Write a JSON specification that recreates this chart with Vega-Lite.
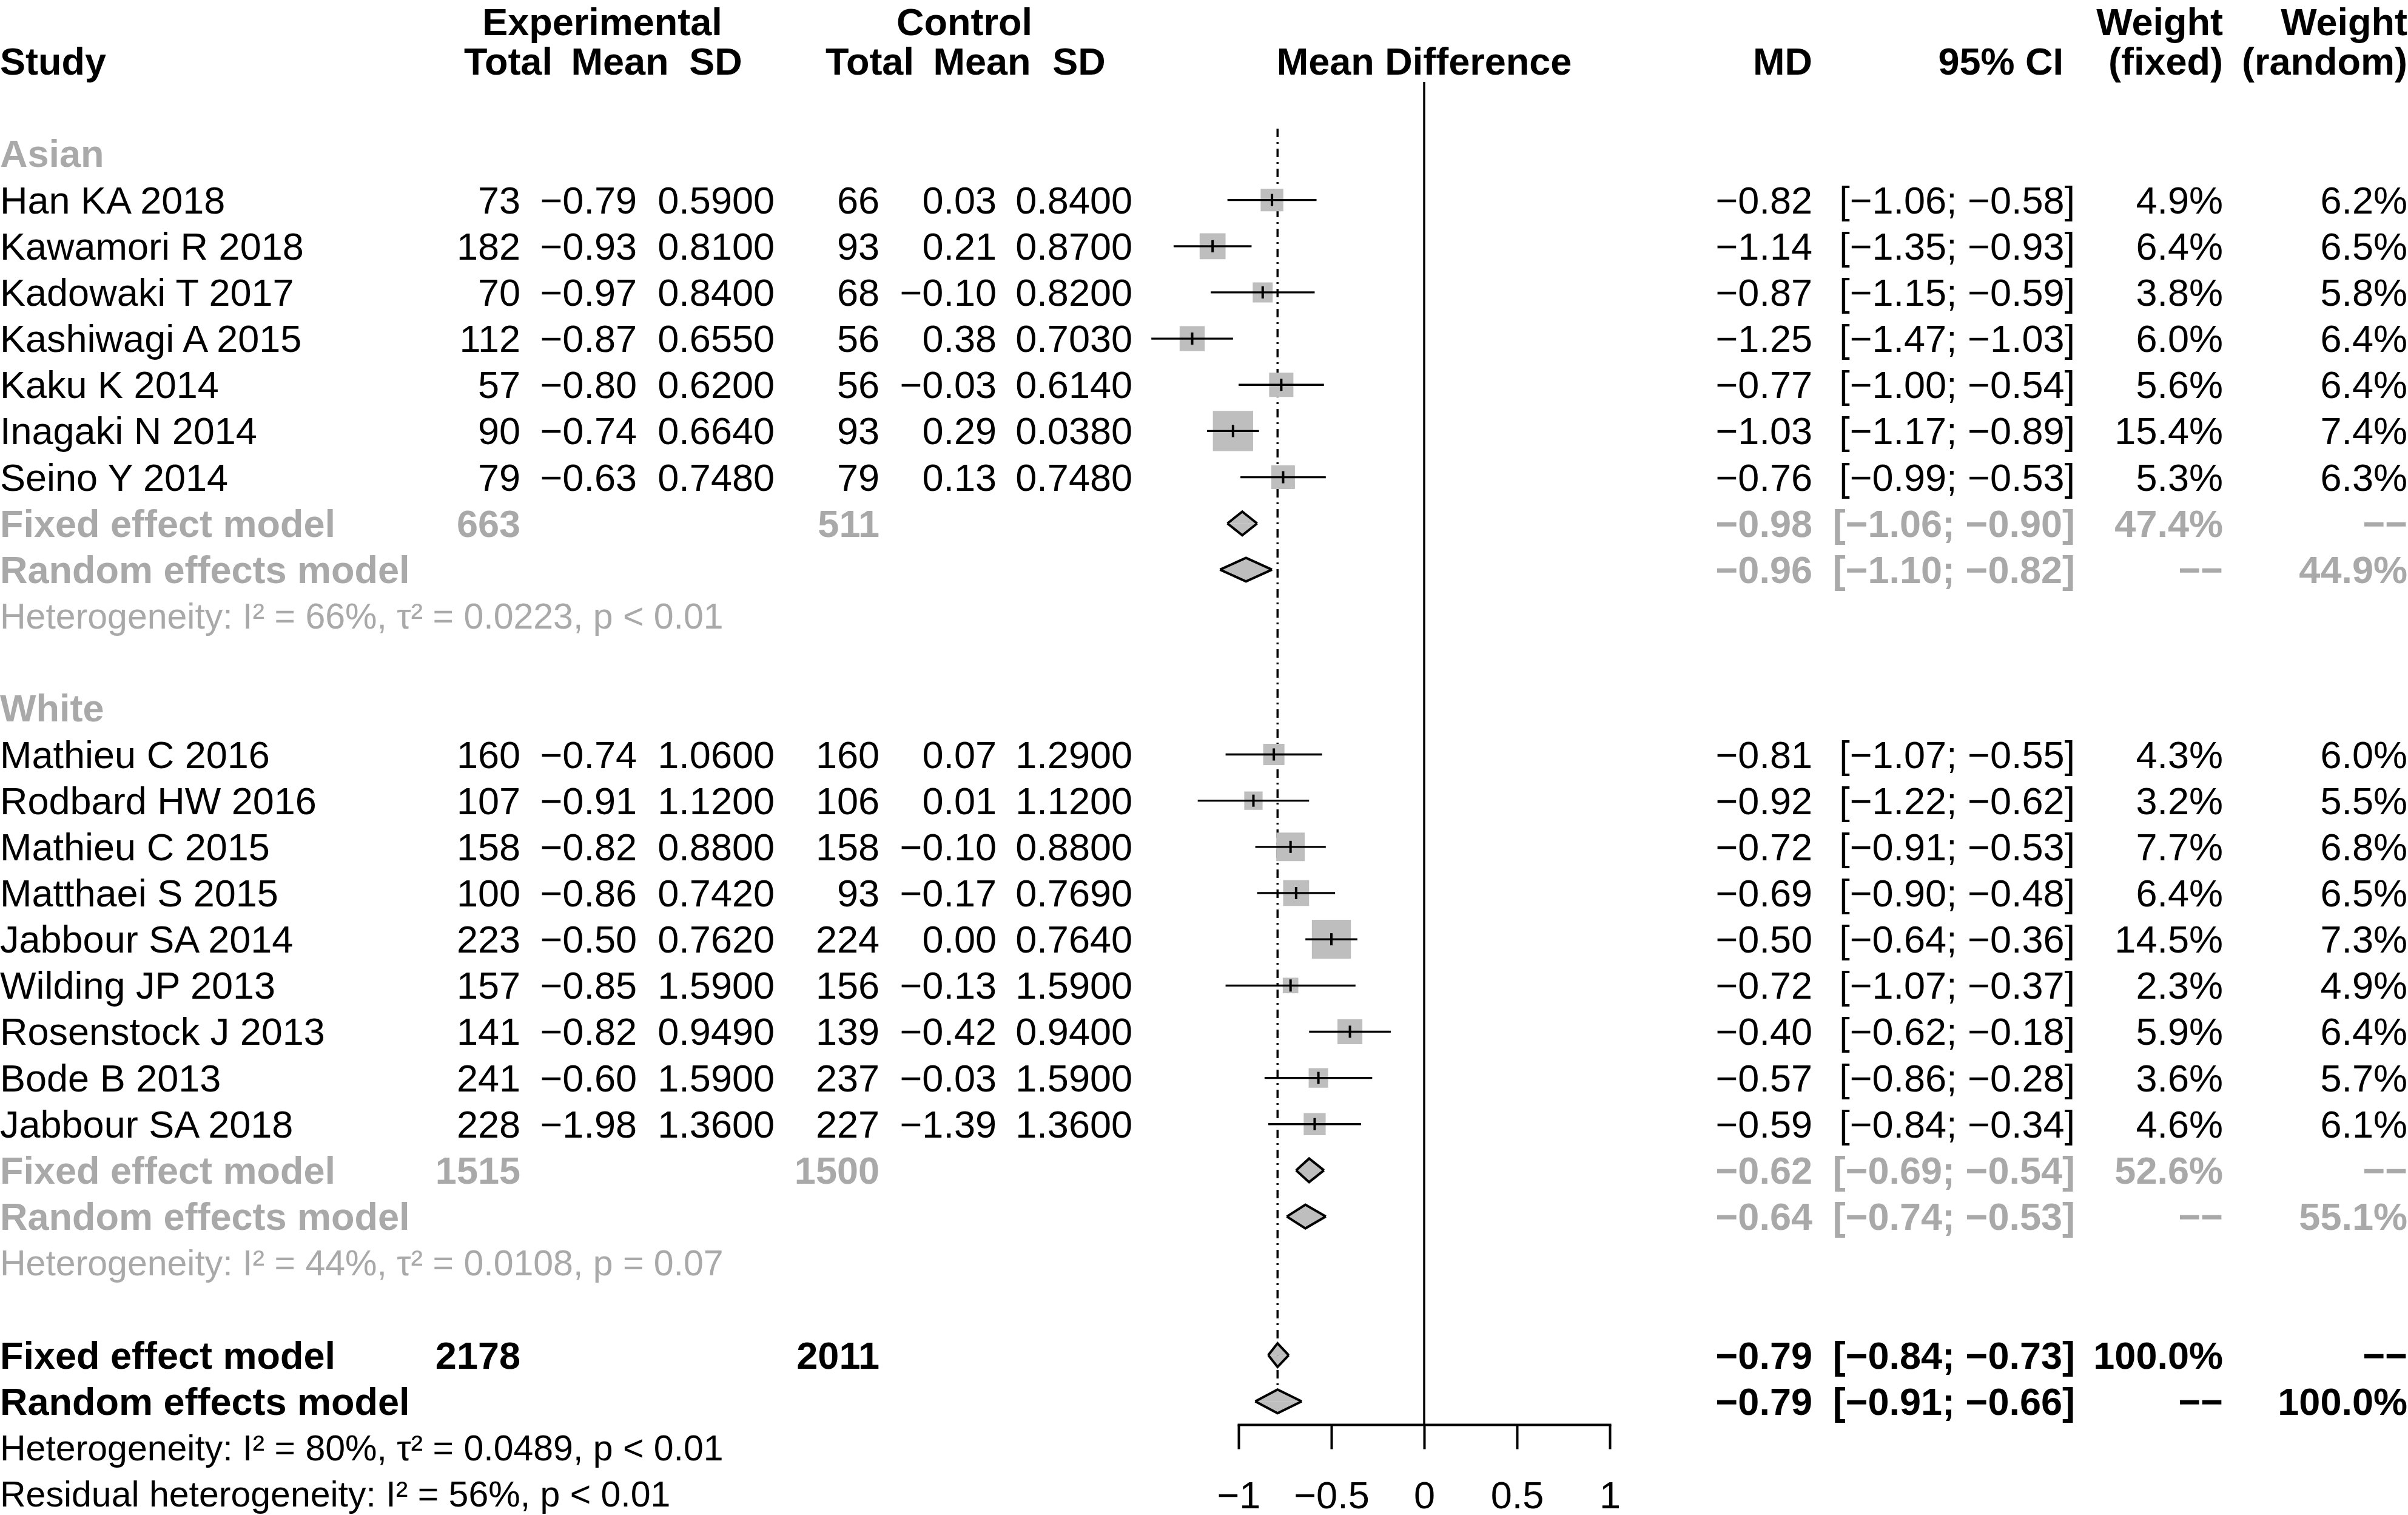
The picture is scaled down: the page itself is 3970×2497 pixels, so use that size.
{
  "$schema": "https://vega.github.io/schema/vega-lite/v6.json",
  "width": 3970,
  "height": 2348,
  "padding": {"left": 0, "top": 0, "right": 0, "bottom": 149},
  "autosize": {"type": "none"},
  "background": "white",
  "config": {"view": {"stroke": null}, "text": {"font": "Liberation Sans"}, "axis": {"labelFont": "Liberation Sans"}},
  "datasets": {
    "studies": [
      {"row": 4, "study": "Han KA 2018", "eN": "73", "eM": "−0.79", "eS": "0.5900", "cN": "66", "cM": "0.03", "cS": "0.8400", "mdTxt": "−0.82", "ciTxt": "[−1.06; −0.58]", "wfTxt": "4.9%", "wrTxt": "6.2%", "md": -0.82, "lo": -1.06, "hi": -0.58, "wf": 4.9},
      {"row": 5, "study": "Kawamori R 2018", "eN": "182", "eM": "−0.93", "eS": "0.8100", "cN": "93", "cM": "0.21", "cS": "0.8700", "mdTxt": "−1.14", "ciTxt": "[−1.35; −0.93]", "wfTxt": "6.4%", "wrTxt": "6.5%", "md": -1.14, "lo": -1.35, "hi": -0.93, "wf": 6.4},
      {"row": 6, "study": "Kadowaki T 2017", "eN": "70", "eM": "−0.97", "eS": "0.8400", "cN": "68", "cM": "−0.10", "cS": "0.8200", "mdTxt": "−0.87", "ciTxt": "[−1.15; −0.59]", "wfTxt": "3.8%", "wrTxt": "5.8%", "md": -0.87, "lo": -1.15, "hi": -0.59, "wf": 3.8},
      {"row": 7, "study": "Kashiwagi A 2015", "eN": "112", "eM": "−0.87", "eS": "0.6550", "cN": "56", "cM": "0.38", "cS": "0.7030", "mdTxt": "−1.25", "ciTxt": "[−1.47; −1.03]", "wfTxt": "6.0%", "wrTxt": "6.4%", "md": -1.25, "lo": -1.47, "hi": -1.03, "wf": 6.0},
      {"row": 8, "study": "Kaku K 2014", "eN": "57", "eM": "−0.80", "eS": "0.6200", "cN": "56", "cM": "−0.03", "cS": "0.6140", "mdTxt": "−0.77", "ciTxt": "[−1.00; −0.54]", "wfTxt": "5.6%", "wrTxt": "6.4%", "md": -0.77, "lo": -1.00, "hi": -0.54, "wf": 5.6},
      {"row": 9, "study": "Inagaki N 2014", "eN": "90", "eM": "−0.74", "eS": "0.6640", "cN": "93", "cM": "0.29", "cS": "0.0380", "mdTxt": "−1.03", "ciTxt": "[−1.17; −0.89]", "wfTxt": "15.4%", "wrTxt": "7.4%", "md": -1.03, "lo": -1.17, "hi": -0.89, "wf": 15.4},
      {"row": 10, "study": "Seino Y 2014", "eN": "79", "eM": "−0.63", "eS": "0.7480", "cN": "79", "cM": "0.13", "cS": "0.7480", "mdTxt": "−0.76", "ciTxt": "[−0.99; −0.53]", "wfTxt": "5.3%", "wrTxt": "6.3%", "md": -0.76, "lo": -0.99, "hi": -0.53, "wf": 5.3},
      {"row": 16, "study": "Mathieu C 2016", "eN": "160", "eM": "−0.74", "eS": "1.0600", "cN": "160", "cM": "0.07", "cS": "1.2900", "mdTxt": "−0.81", "ciTxt": "[−1.07; −0.55]", "wfTxt": "4.3%", "wrTxt": "6.0%", "md": -0.81, "lo": -1.07, "hi": -0.55, "wf": 4.3},
      {"row": 17, "study": "Rodbard HW 2016", "eN": "107", "eM": "−0.91", "eS": "1.1200", "cN": "106", "cM": "0.01", "cS": "1.1200", "mdTxt": "−0.92", "ciTxt": "[−1.22; −0.62]", "wfTxt": "3.2%", "wrTxt": "5.5%", "md": -0.92, "lo": -1.22, "hi": -0.62, "wf": 3.2},
      {"row": 18, "study": "Mathieu C 2015", "eN": "158", "eM": "−0.82", "eS": "0.8800", "cN": "158", "cM": "−0.10", "cS": "0.8800", "mdTxt": "−0.72", "ciTxt": "[−0.91; −0.53]", "wfTxt": "7.7%", "wrTxt": "6.8%", "md": -0.72, "lo": -0.91, "hi": -0.53, "wf": 7.7},
      {"row": 19, "study": "Matthaei S 2015", "eN": "100", "eM": "−0.86", "eS": "0.7420", "cN": "93", "cM": "−0.17", "cS": "0.7690", "mdTxt": "−0.69", "ciTxt": "[−0.90; −0.48]", "wfTxt": "6.4%", "wrTxt": "6.5%", "md": -0.69, "lo": -0.90, "hi": -0.48, "wf": 6.4},
      {"row": 20, "study": "Jabbour SA 2014", "eN": "223", "eM": "−0.50", "eS": "0.7620", "cN": "224", "cM": "0.00", "cS": "0.7640", "mdTxt": "−0.50", "ciTxt": "[−0.64; −0.36]", "wfTxt": "14.5%", "wrTxt": "7.3%", "md": -0.50, "lo": -0.64, "hi": -0.36, "wf": 14.5},
      {"row": 21, "study": "Wilding JP 2013", "eN": "157", "eM": "−0.85", "eS": "1.5900", "cN": "156", "cM": "−0.13", "cS": "1.5900", "mdTxt": "−0.72", "ciTxt": "[−1.07; −0.37]", "wfTxt": "2.3%", "wrTxt": "4.9%", "md": -0.72, "lo": -1.07, "hi": -0.37, "wf": 2.3},
      {"row": 22, "study": "Rosenstock J 2013", "eN": "141", "eM": "−0.82", "eS": "0.9490", "cN": "139", "cM": "−0.42", "cS": "0.9400", "mdTxt": "−0.40", "ciTxt": "[−0.62; −0.18]", "wfTxt": "5.9%", "wrTxt": "6.4%", "md": -0.40, "lo": -0.62, "hi": -0.18, "wf": 5.9},
      {"row": 23, "study": "Bode B 2013", "eN": "241", "eM": "−0.60", "eS": "1.5900", "cN": "237", "cM": "−0.03", "cS": "1.5900", "mdTxt": "−0.57", "ciTxt": "[−0.86; −0.28]", "wfTxt": "3.6%", "wrTxt": "5.7%", "md": -0.57, "lo": -0.86, "hi": -0.28, "wf": 3.6},
      {"row": 24, "study": "Jabbour SA 2018", "eN": "228", "eM": "−1.98", "eS": "1.3600", "cN": "227", "cM": "−1.39", "cS": "1.3600", "mdTxt": "−0.59", "ciTxt": "[−0.84; −0.34]", "wfTxt": "4.6%", "wrTxt": "6.1%", "md": -0.59, "lo": -0.84, "hi": -0.34, "wf": 4.6}
    ],
    "summaries": [
      {"row": 11, "grp": "sub", "label": "Fixed effect model", "eN": "663", "cN": "511", "mdTxt": "−0.98", "ciTxt": "[−1.06; −0.90]", "wfTxt": "47.4%", "wrTxt": "−−", "md": -0.98},
      {"row": 12, "grp": "sub", "label": "Random effects model", "mdTxt": "−0.96", "ciTxt": "[−1.10; −0.82]", "wfTxt": "−−", "wrTxt": "44.9%", "md": -0.96},
      {"row": 25, "grp": "sub", "label": "Fixed effect model", "eN": "1515", "cN": "1500", "mdTxt": "−0.62", "ciTxt": "[−0.69; −0.54]", "wfTxt": "52.6%", "wrTxt": "−−", "md": -0.62},
      {"row": 26, "grp": "sub", "label": "Random effects model", "mdTxt": "−0.64", "ciTxt": "[−0.74; −0.53]", "wfTxt": "−−", "wrTxt": "55.1%", "md": -0.64},
      {"row": 29, "grp": "all", "label": "Fixed effect model", "eN": "2178", "cN": "2011", "mdTxt": "−0.79", "ciTxt": "[−0.84; −0.73]", "wfTxt": "100.0%", "wrTxt": "−−", "md": -0.79},
      {"row": 30, "grp": "all", "label": "Random effects model", "mdTxt": "−0.79", "ciTxt": "[−0.91; −0.66]", "wfTxt": "−−", "wrTxt": "100.0%", "md": -0.79}
    ],
    "diamonds": [
      {"m": "asian_fixed", "row": 11, "x": -1.06, "v": "m"}, {"m": "asian_fixed", "row": 11, "x": -0.98, "v": "t"}, {"m": "asian_fixed", "row": 11, "x": -0.98, "v": "b"}, {"m": "asian_fixed", "row": 11, "x": -0.90, "v": "m"},
      {"m": "asian_random", "row": 12, "x": -1.10, "v": "m"}, {"m": "asian_random", "row": 12, "x": -0.96, "v": "t"}, {"m": "asian_random", "row": 12, "x": -0.96, "v": "b"}, {"m": "asian_random", "row": 12, "x": -0.82, "v": "m"},
      {"m": "white_fixed", "row": 25, "x": -0.69, "v": "m"}, {"m": "white_fixed", "row": 25, "x": -0.62, "v": "t"}, {"m": "white_fixed", "row": 25, "x": -0.62, "v": "b"}, {"m": "white_fixed", "row": 25, "x": -0.54, "v": "m"},
      {"m": "white_random", "row": 26, "x": -0.74, "v": "m"}, {"m": "white_random", "row": 26, "x": -0.64, "v": "t"}, {"m": "white_random", "row": 26, "x": -0.64, "v": "b"}, {"m": "white_random", "row": 26, "x": -0.53, "v": "m"},
      {"m": "all_fixed", "row": 29, "x": -0.84, "v": "m"}, {"m": "all_fixed", "row": 29, "x": -0.79, "v": "t"}, {"m": "all_fixed", "row": 29, "x": -0.79, "v": "b"}, {"m": "all_fixed", "row": 29, "x": -0.73, "v": "m"},
      {"m": "all_random", "row": 30, "x": -0.91, "v": "m"}, {"m": "all_random", "row": 30, "x": -0.79, "v": "t"}, {"m": "all_random", "row": 30, "x": -0.79, "v": "b"}, {"m": "all_random", "row": 30, "x": -0.66, "v": "m"}
    ],
    "groups": [
      {"row": 3, "label": "Asian", "grp": "sub"},
      {"row": 15, "label": "White", "grp": "sub"}
    ],
    "het": [
      {"row": 13, "grp": "sub", "label": "Heterogeneity: I² = 66%, τ² = 0.0223, p < 0.01"},
      {"row": 27, "grp": "sub", "label": "Heterogeneity: I² = 44%, τ² = 0.0108, p = 0.07"},
      {"row": 31, "grp": "all", "label": "Heterogeneity: I² = 80%, τ² = 0.0489, p < 0.01"},
      {"row": 32, "grp": "all", "label": "Residual heterogeneity: I² = 56%, p < 0.01"}
    ],
    "headers": [
      {"row": 0, "label": "Experimental", "col": 3},
      {"row": 0, "label": "Control", "col": 10},
      {"row": 0, "label": "Weight", "col": 18},
      {"row": 0, "label": "Weight", "col": 19},
      {"row": 1, "label": "Study", "col": 0},
      {"row": 1, "label": "Total", "col": 1},
      {"row": 1, "label": "Mean", "col": 4},
      {"row": 1, "label": "SD", "col": 6},
      {"row": 1, "label": "Total", "col": 8},
      {"row": 1, "label": "Mean", "col": 11},
      {"row": 1, "label": "SD", "col": 13},
      {"row": 1, "label": "Mean Difference", "col": null},
      {"row": 1, "label": "MD", "col": 15},
      {"row": 1, "label": "95% CI", "col": 16},
      {"row": 1, "label": "(fixed)", "col": 18},
      {"row": 1, "label": "(random)", "col": 19}
    ],
    "cols": [
      {"key": "eN", "col": 2}, {"key": "eM", "col": 5}, {"key": "eS", "col": 7},
      {"key": "cN", "col": 9}, {"key": "cM", "col": 12}, {"key": "cS", "col": 14},
      {"key": "mdTxt", "col": 15}, {"key": "ciTxt", "col": 17}, {"key": "wfTxt", "col": 18}, {"key": "wrTxt", "col": 19}
    ]
  },
  "resolve": {"scale": {"x": "independent", "y": "independent"}, "axis": {"x": "independent", "y": "independent"}},
  "layer": [
    {
      "resolve": {"scale": {"y": "independent"}, "axis": {"y": "independent"}},
      "layer": [
        {
          "data": {"values": [{}]},
          "mark": {"type": "rule", "strokeWidth": 3.5, "color": "black"},
          "encoding": {
            "x": {"datum": 0, "type": "quantitative", "scale": {"domain": [-1, 1], "range": [2042, 2654], "nice": false, "zero": false}, "axis": {"values": [-1, -0.5, 0, 0.5, 1], "title": null, "format": "~g", "grid": false, "labelFlush": false, "labelOverlap": false, "labelBound": false, "ticks": true, "tickSize": 40, "tickWidth": 4, "tickColor": "black", "domain": true, "domainColor": "black", "domainWidth": 4, "domainCap": "square", "labelFontSize": 63, "labelFont": "Liberation Sans", "labelColor": "black", "labelPadding": 47, "orient": "bottom"}},
            "y": {"datum": 1.444, "type": "quantitative", "scale": {"domain": [0, 32], "range": [25, 2462], "nice": false, "zero": false}, "axis": null},
            "y2": {"datum": 30.503}
          }
        },
        {
          "data": {"name": "summaries"},
          "transform": [{"filter": "datum.grp === 'all' && datum.label === 'Fixed effect model'"}],
          "mark": {"type": "rule", "strokeWidth": 3.5, "color": "black", "strokeDash": [14, 8, 3, 8]},
          "encoding": {
            "x": {"field": "md", "type": "quantitative", "scale": {"domain": [-1, 1], "range": [2042, 2654], "nice": false, "zero": false}, "axis": {"values": [-1, -0.5, 0, 0.5, 1], "title": null, "format": "~g", "grid": false, "labelFlush": false, "labelOverlap": false, "labelBound": false, "ticks": true, "tickSize": 40, "tickWidth": 4, "tickColor": "black", "domain": true, "domainColor": "black", "domainWidth": 4, "domainCap": "square", "labelFontSize": 63, "labelFont": "Liberation Sans", "labelColor": "black", "labelPadding": 47, "orient": "bottom"}},
            "y": {"datum": 2.455, "type": "quantitative", "scale": {"domain": [0, 32], "range": [25, 2462], "nice": false, "zero": false}, "axis": null},
            "y2": {"datum": 29.742}
          }
        },
        {
          "data": {"name": "studies"},
          "mark": {"type": "square", "filled": true, "color": "#BEBEBE", "opacity": 1},
          "encoding": {
            "x": {"field": "md", "type": "quantitative", "scale": {"domain": [-1, 1], "range": [2042, 2654], "nice": false, "zero": false}, "axis": {"values": [-1, -0.5, 0, 0.5, 1], "title": null, "format": "~g", "grid": false, "labelFlush": false, "labelOverlap": false, "labelBound": false, "ticks": true, "tickSize": 40, "tickWidth": 4, "tickColor": "black", "domain": true, "domainColor": "black", "domainWidth": 4, "domainCap": "square", "labelFontSize": 63, "labelFont": "Liberation Sans", "labelColor": "black", "labelPadding": 47, "orient": "bottom"}},
            "y": {"field": "row", "type": "quantitative", "scale": {"domain": [0, 32], "range": [25, 2462], "nice": false, "zero": false}, "axis": null},
            "size": {"field": "wf", "type": "quantitative", "scale": {"type": "linear", "domain": [0, 15.4], "range": [0, 4400]}, "legend": null}
          }
        },
        {
          "data": {"name": "studies"},
          "mark": {"type": "rule", "strokeWidth": 3.3, "color": "black"},
          "encoding": {
            "x": {"field": "lo", "type": "quantitative", "scale": {"domain": [-1, 1], "range": [2042, 2654], "nice": false, "zero": false}, "axis": {"values": [-1, -0.5, 0, 0.5, 1], "title": null, "format": "~g", "grid": false, "labelFlush": false, "labelOverlap": false, "labelBound": false, "ticks": true, "tickSize": 40, "tickWidth": 4, "tickColor": "black", "domain": true, "domainColor": "black", "domainWidth": 4, "domainCap": "square", "labelFontSize": 63, "labelFont": "Liberation Sans", "labelColor": "black", "labelPadding": 47, "orient": "bottom"}},
            "x2": {"field": "hi"},
            "y": {"field": "row", "type": "quantitative", "scale": {"domain": [0, 32], "range": [25, 2462], "nice": false, "zero": false}, "axis": null}
          }
        },
        {
          "data": {"name": "studies"},
          "mark": {"type": "tick", "orient": "vertical", "size": 20, "thickness": 4, "color": "black", "opacity": 1},
          "encoding": {
            "x": {"field": "md", "type": "quantitative", "scale": {"domain": [-1, 1], "range": [2042, 2654], "nice": false, "zero": false}, "axis": {"values": [-1, -0.5, 0, 0.5, 1], "title": null, "format": "~g", "grid": false, "labelFlush": false, "labelOverlap": false, "labelBound": false, "ticks": true, "tickSize": 40, "tickWidth": 4, "tickColor": "black", "domain": true, "domainColor": "black", "domainWidth": 4, "domainCap": "square", "labelFontSize": 63, "labelFont": "Liberation Sans", "labelColor": "black", "labelPadding": 47, "orient": "bottom"}},
            "y": {"field": "row", "type": "quantitative", "scale": {"domain": [0, 32], "range": [25, 2462], "nice": false, "zero": false}, "axis": null}
          }
        },
        {
          "data": {"name": "diamonds"},
          "transform": [{"filter": "datum.v !== 'b'"}],
          "mark": {"type": "line", "fill": "#BEBEBE", "stroke": "black", "strokeWidth": 4, "strokeJoin": "miter"},
          "encoding": {
            "x": {"field": "x", "type": "quantitative", "scale": {"domain": [-1, 1], "range": [2042, 2654], "nice": false, "zero": false}, "axis": {"values": [-1, -0.5, 0, 0.5, 1], "title": null, "format": "~g", "grid": false, "labelFlush": false, "labelOverlap": false, "labelBound": false, "ticks": true, "tickSize": 40, "tickWidth": 4, "tickColor": "black", "domain": true, "domainColor": "black", "domainWidth": 4, "domainCap": "square", "labelFontSize": 63, "labelFont": "Liberation Sans", "labelColor": "black", "labelPadding": 47, "orient": "bottom"}},
            "y": {"field": "row", "type": "ordinal", "scale": {"type": "band", "domain": [0, 1, 2, 3, 4, 5, 6, 7, 8, 9, 10, 11, 12, 13, 14, 15, 16, 17, 18, 19, 20, 21, 22, 23, 24, 25, 26, 27, 28, 29, 30, 31, 32], "range": [-13.08, 2500.08], "paddingInner": 0, "paddingOuter": 0}, "axis": null},
            "yOffset": {"field": "v", "type": "nominal", "scale": {"type": "point", "domain": ["t", "m", "b"], "range": [18.58, 57.58], "padding": 0}},
            "order": {"field": "x", "type": "quantitative", "sort": "ascending"},
            "detail": {"field": "m", "type": "nominal"}
          }
        },
        {
          "data": {"name": "diamonds"},
          "transform": [{"filter": "datum.v !== 't'"}],
          "mark": {"type": "line", "fill": "#BEBEBE", "stroke": "black", "strokeWidth": 4, "strokeJoin": "miter"},
          "encoding": {
            "x": {"field": "x", "type": "quantitative", "scale": {"domain": [-1, 1], "range": [2042, 2654], "nice": false, "zero": false}, "axis": {"values": [-1, -0.5, 0, 0.5, 1], "title": null, "format": "~g", "grid": false, "labelFlush": false, "labelOverlap": false, "labelBound": false, "ticks": true, "tickSize": 40, "tickWidth": 4, "tickColor": "black", "domain": true, "domainColor": "black", "domainWidth": 4, "domainCap": "square", "labelFontSize": 63, "labelFont": "Liberation Sans", "labelColor": "black", "labelPadding": 47, "orient": "bottom"}},
            "y": {"field": "row", "type": "ordinal", "scale": {"type": "band", "domain": [0, 1, 2, 3, 4, 5, 6, 7, 8, 9, 10, 11, 12, 13, 14, 15, 16, 17, 18, 19, 20, 21, 22, 23, 24, 25, 26, 27, 28, 29, 30, 31, 32], "range": [-13.08, 2500.08], "paddingInner": 0, "paddingOuter": 0}, "axis": null},
            "yOffset": {"field": "v", "type": "nominal", "scale": {"type": "point", "domain": ["t", "m", "b"], "range": [18.58, 57.58], "padding": 0}},
            "order": {"field": "x", "type": "quantitative", "sort": "ascending"},
            "detail": {"field": "m", "type": "nominal"}
          }
        },
        {
          "data": {"name": "headers"},
          "transform": [{"filter": "datum.col === null"}],
          "mark": {"type": "text", "align": "center", "baseline": "alphabetic", "dy": 22, "fontSize": 63, "fontWeight": "bold", "color": "black", "font": "Liberation Sans"},
          "encoding": {
            "x": {"datum": 0, "type": "quantitative", "scale": {"domain": [-1, 1], "range": [2042, 2654], "nice": false, "zero": false}, "axis": {"values": [-1, -0.5, 0, 0.5, 1], "title": null, "format": "~g", "grid": false, "labelFlush": false, "labelOverlap": false, "labelBound": false, "ticks": true, "tickSize": 40, "tickWidth": 4, "tickColor": "black", "domain": true, "domainColor": "black", "domainWidth": 4, "domainCap": "square", "labelFontSize": 63, "labelFont": "Liberation Sans", "labelColor": "black", "labelPadding": 47, "orient": "bottom"}},
            "y": {"field": "row", "type": "quantitative", "scale": {"domain": [0, 32], "range": [25, 2462], "nice": false, "zero": false}, "axis": null},
            "text": {"field": "label"}
          }
        }
      ]
    },
    {
      "layer": [
        {
          "data": {"name": "studies"},
          "mark": {"type": "text", "align": "left", "baseline": "alphabetic", "dy": 22, "fontSize": 63, "color": "black", "font": "Liberation Sans"},
          "encoding": {
            "x": {"datum": 0, "type": "quantitative", "scale": {"type": "linear", "domain": [0, 1, 2, 3, 4, 5, 6, 7, 8, 9, 10, 11, 12, 13, 14, 15, 16, 17, 18, 19], "range": [0, 838, 858, 993, 1022, 1050, 1180, 1277, 1434, 1450, 1590, 1619, 1643, 1779, 1867, 2988, 3402, 3421, 3665, 3969], "nice": false, "zero": false}, "axis": null},
            "y": {"field": "row", "type": "quantitative", "scale": {"domain": [0, 32], "range": [25, 2462], "nice": false, "zero": false}, "axis": null},
            "text": {"field": "study"}
          }
        },
        {
          "data": {"name": "studies"},
          "transform": [
            {"fold": ["eN", "eM", "eS", "cN", "cM", "cS", "mdTxt", "ciTxt", "wfTxt", "wrTxt"], "as": ["key", "value"]},
            {"lookup": "key", "from": {"data": {"name": "cols"}, "key": "key", "fields": ["col"]}}
          ],
          "mark": {"type": "text", "align": "right", "baseline": "alphabetic", "dy": 22, "fontSize": 63, "color": "black", "font": "Liberation Sans"},
          "encoding": {
            "x": {"field": "col", "type": "quantitative", "scale": {"type": "linear", "domain": [0, 1, 2, 3, 4, 5, 6, 7, 8, 9, 10, 11, 12, 13, 14, 15, 16, 17, 18, 19], "range": [0, 838, 858, 993, 1022, 1050, 1180, 1277, 1434, 1450, 1590, 1619, 1643, 1779, 1867, 2988, 3402, 3421, 3665, 3969], "nice": false, "zero": false}, "axis": null},
            "y": {"field": "row", "type": "quantitative", "scale": {"domain": [0, 32], "range": [25, 2462], "nice": false, "zero": false}, "axis": null},
            "text": {"field": "value"}
          }
        },
        {
          "data": {"name": "groups"},
          "mark": {"type": "text", "align": "left", "baseline": "alphabetic", "dy": 22, "fontSize": 63, "fontWeight": "bold", "font": "Liberation Sans"},
          "encoding": {
            "x": {"datum": 0, "type": "quantitative", "scale": {"type": "linear", "domain": [0, 1, 2, 3, 4, 5, 6, 7, 8, 9, 10, 11, 12, 13, 14, 15, 16, 17, 18, 19], "range": [0, 838, 858, 993, 1022, 1050, 1180, 1277, 1434, 1450, 1590, 1619, 1643, 1779, 1867, 2988, 3402, 3421, 3665, 3969], "nice": false, "zero": false}, "axis": null},
            "y": {"field": "row", "type": "quantitative", "scale": {"domain": [0, 32], "range": [25, 2462], "nice": false, "zero": false}, "axis": null},
            "color": {"field": "grp", "type": "nominal", "scale": {"domain": ["sub", "all"], "range": ["#A9A9A9", "#000000"]}, "legend": null},
            "text": {"field": "label"}
          }
        },
        {
          "data": {"name": "summaries"},
          "mark": {"type": "text", "align": "left", "baseline": "alphabetic", "dy": 22, "fontSize": 63, "fontWeight": "bold", "font": "Liberation Sans"},
          "encoding": {
            "x": {"datum": 0, "type": "quantitative", "scale": {"type": "linear", "domain": [0, 1, 2, 3, 4, 5, 6, 7, 8, 9, 10, 11, 12, 13, 14, 15, 16, 17, 18, 19], "range": [0, 838, 858, 993, 1022, 1050, 1180, 1277, 1434, 1450, 1590, 1619, 1643, 1779, 1867, 2988, 3402, 3421, 3665, 3969], "nice": false, "zero": false}, "axis": null},
            "y": {"field": "row", "type": "quantitative", "scale": {"domain": [0, 32], "range": [25, 2462], "nice": false, "zero": false}, "axis": null},
            "color": {"field": "grp", "type": "nominal", "scale": {"domain": ["sub", "all"], "range": ["#A9A9A9", "#000000"]}, "legend": null},
            "text": {"field": "label"}
          }
        },
        {
          "data": {"name": "summaries"},
          "transform": [
            {"fold": ["eN", "eM", "eS", "cN", "cM", "cS", "mdTxt", "ciTxt", "wfTxt", "wrTxt"], "as": ["key", "value"]},
            {"filter": "isValid(datum.value)"},
            {"lookup": "key", "from": {"data": {"name": "cols"}, "key": "key", "fields": ["col"]}}
          ],
          "mark": {"type": "text", "align": "right", "baseline": "alphabetic", "dy": 22, "fontSize": 63, "fontWeight": "bold", "font": "Liberation Sans"},
          "encoding": {
            "x": {"field": "col", "type": "quantitative", "scale": {"type": "linear", "domain": [0, 1, 2, 3, 4, 5, 6, 7, 8, 9, 10, 11, 12, 13, 14, 15, 16, 17, 18, 19], "range": [0, 838, 858, 993, 1022, 1050, 1180, 1277, 1434, 1450, 1590, 1619, 1643, 1779, 1867, 2988, 3402, 3421, 3665, 3969], "nice": false, "zero": false}, "axis": null},
            "y": {"field": "row", "type": "quantitative", "scale": {"domain": [0, 32], "range": [25, 2462], "nice": false, "zero": false}, "axis": null},
            "color": {"field": "grp", "type": "nominal", "scale": {"domain": ["sub", "all"], "range": ["#A9A9A9", "#000000"]}, "legend": null},
            "text": {"field": "value"}
          }
        },
        {
          "data": {"name": "het"},
          "mark": {"type": "text", "align": "left", "baseline": "alphabetic", "dy": 21, "fontSize": 59, "font": "Liberation Sans"},
          "encoding": {
            "x": {"datum": 0, "type": "quantitative", "scale": {"type": "linear", "domain": [0, 1, 2, 3, 4, 5, 6, 7, 8, 9, 10, 11, 12, 13, 14, 15, 16, 17, 18, 19], "range": [0, 838, 858, 993, 1022, 1050, 1180, 1277, 1434, 1450, 1590, 1619, 1643, 1779, 1867, 2988, 3402, 3421, 3665, 3969], "nice": false, "zero": false}, "axis": null},
            "y": {"field": "row", "type": "quantitative", "scale": {"domain": [0, 32], "range": [25, 2462], "nice": false, "zero": false}, "axis": null},
            "color": {"field": "grp", "type": "nominal", "scale": {"domain": ["sub", "all"], "range": ["#A9A9A9", "#000000"]}, "legend": null},
            "text": {"field": "label"}
          }
        },
        {
          "data": {"name": "headers"},
          "transform": [{"filter": "datum.col === 0"}],
          "mark": {"type": "text", "align": "left", "baseline": "alphabetic", "dy": 22, "fontSize": 63, "fontWeight": "bold", "color": "black", "font": "Liberation Sans"},
          "encoding": {
            "x": {"field": "col", "type": "quantitative", "scale": {"type": "linear", "domain": [0, 1, 2, 3, 4, 5, 6, 7, 8, 9, 10, 11, 12, 13, 14, 15, 16, 17, 18, 19], "range": [0, 838, 858, 993, 1022, 1050, 1180, 1277, 1434, 1450, 1590, 1619, 1643, 1779, 1867, 2988, 3402, 3421, 3665, 3969], "nice": false, "zero": false}, "axis": null},
            "y": {"field": "row", "type": "quantitative", "scale": {"domain": [0, 32], "range": [25, 2462], "nice": false, "zero": false}, "axis": null},
            "text": {"field": "label"}
          }
        },
        {
          "data": {"name": "headers"},
          "transform": [{"filter": "datum.row === 1 && datum.col > 0 && datum.col < 15"}],
          "mark": {"type": "text", "align": "center", "baseline": "alphabetic", "dy": 22, "fontSize": 63, "fontWeight": "bold", "color": "black", "font": "Liberation Sans"},
          "encoding": {
            "x": {"field": "col", "type": "quantitative", "scale": {"type": "linear", "domain": [0, 1, 2, 3, 4, 5, 6, 7, 8, 9, 10, 11, 12, 13, 14, 15, 16, 17, 18, 19], "range": [0, 838, 858, 993, 1022, 1050, 1180, 1277, 1434, 1450, 1590, 1619, 1643, 1779, 1867, 2988, 3402, 3421, 3665, 3969], "nice": false, "zero": false}, "axis": null},
            "y": {"field": "row", "type": "quantitative", "scale": {"domain": [0, 32], "range": [25, 2462], "nice": false, "zero": false}, "axis": null},
            "text": {"field": "label"}
          }
        },
        {
          "data": {"name": "headers"},
          "transform": [{"filter": "datum.row === 1 && datum.col >= 15"}],
          "mark": {"type": "text", "align": "right", "baseline": "alphabetic", "dy": 22, "fontSize": 63, "fontWeight": "bold", "color": "black", "font": "Liberation Sans"},
          "encoding": {
            "x": {"field": "col", "type": "quantitative", "scale": {"type": "linear", "domain": [0, 1, 2, 3, 4, 5, 6, 7, 8, 9, 10, 11, 12, 13, 14, 15, 16, 17, 18, 19], "range": [0, 838, 858, 993, 1022, 1050, 1180, 1277, 1434, 1450, 1590, 1619, 1643, 1779, 1867, 2988, 3402, 3421, 3665, 3969], "nice": false, "zero": false}, "axis": null},
            "y": {"field": "row", "type": "quantitative", "scale": {"domain": [0, 32], "range": [25, 2462], "nice": false, "zero": false}, "axis": null},
            "text": {"field": "label"}
          }
        },
        {
          "data": {"name": "headers"},
          "transform": [{"filter": "datum.row === 0 && datum.col < 15"}],
          "mark": {"type": "text", "align": "center", "baseline": "alphabetic", "dy": 33, "fontSize": 63, "fontWeight": "bold", "color": "black", "font": "Liberation Sans"},
          "encoding": {
            "x": {"field": "col", "type": "quantitative", "scale": {"type": "linear", "domain": [0, 1, 2, 3, 4, 5, 6, 7, 8, 9, 10, 11, 12, 13, 14, 15, 16, 17, 18, 19], "range": [0, 838, 858, 993, 1022, 1050, 1180, 1277, 1434, 1450, 1590, 1619, 1643, 1779, 1867, 2988, 3402, 3421, 3665, 3969], "nice": false, "zero": false}, "axis": null},
            "y": {"field": "row", "type": "quantitative", "scale": {"domain": [0, 32], "range": [25, 2462], "nice": false, "zero": false}, "axis": null},
            "text": {"field": "label"}
          }
        },
        {
          "data": {"name": "headers"},
          "transform": [{"filter": "datum.row === 0 && datum.col >= 15"}],
          "mark": {"type": "text", "align": "right", "baseline": "alphabetic", "dy": 33, "fontSize": 63, "fontWeight": "bold", "color": "black", "font": "Liberation Sans"},
          "encoding": {
            "x": {"field": "col", "type": "quantitative", "scale": {"type": "linear", "domain": [0, 1, 2, 3, 4, 5, 6, 7, 8, 9, 10, 11, 12, 13, 14, 15, 16, 17, 18, 19], "range": [0, 838, 858, 993, 1022, 1050, 1180, 1277, 1434, 1450, 1590, 1619, 1643, 1779, 1867, 2988, 3402, 3421, 3665, 3969], "nice": false, "zero": false}, "axis": null},
            "y": {"field": "row", "type": "quantitative", "scale": {"domain": [0, 32], "range": [25, 2462], "nice": false, "zero": false}, "axis": null},
            "text": {"field": "label"}
          }
        }
      ]
    }
  ]
}
